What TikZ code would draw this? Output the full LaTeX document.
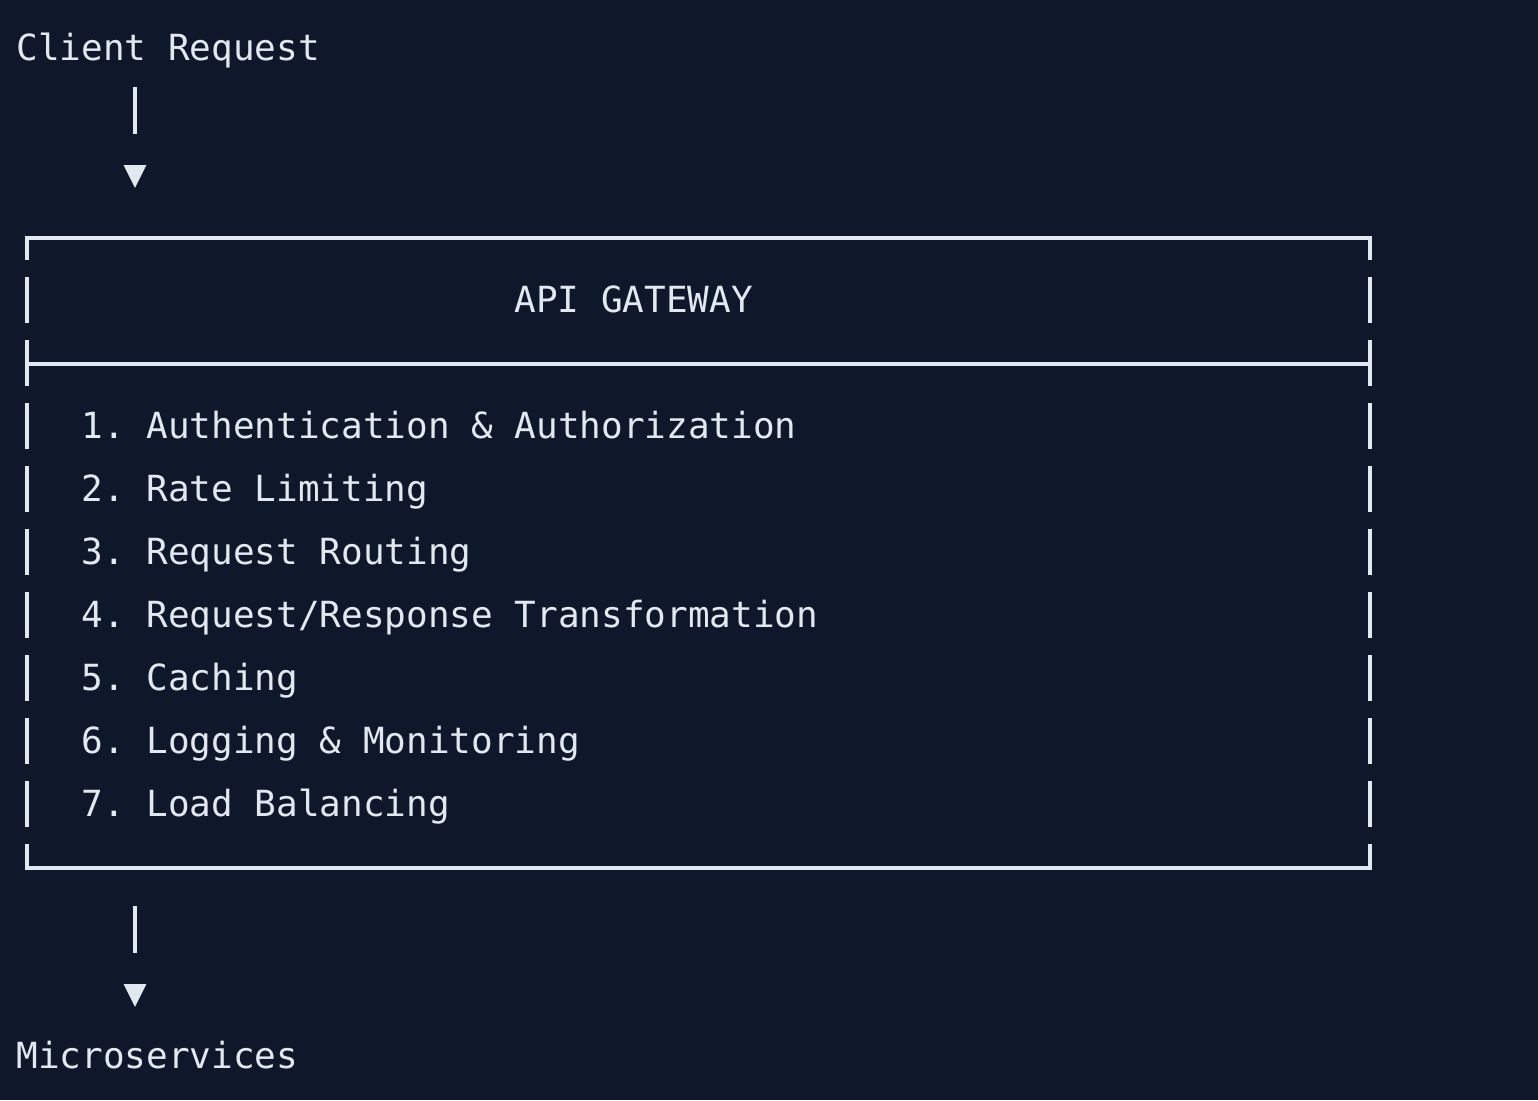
\documentclass[tikz,border=0pt]{standalone}
\usepackage{fontspec}
\setmonofont{DejaVu Sans Mono}
\usepackage{xcolor}
\usepackage{tikz}
\usetikzlibrary{arrows.meta}
\definecolor{bgnavy}{HTML}{0F172A}
\definecolor{inkgrey}{HTML}{E2E8F0}
\tikzset{
    % Text styles
    term/.style={text=inkgrey, font=\ttfamily\fontsize{18pt}{22pt}\selectfont\frenchspacing, inner sep=0pt, anchor=base west},
    % Frame styles
    rule/.style={inkgrey, line width=1.8pt, line cap=rect},
    side/.style={inkgrey, line width=1.8pt, dash pattern=on 23pt off 8.5pt, dash phase=12pt},
    % Arrow styles
    flow/.style={inkgrey, line width=1.7pt, dash pattern=on 23.5pt off 60pt, -{Triangle[width=11pt, length=11.5pt]}}
}

\begin{document}
\begin{tikzpicture}[x=0.5pt, y=-0.5pt]
% Background
\useasboundingbox (0,0) rectangle (1538,1100);
\fill[bgnavy] (0,0) rectangle (1538,1100);

% Request in
\node[term] (client) at (16,60) {Client Request};
\coordinate (inTop) at (135,87);
\coordinate (inTip) at (135,188);
\draw[flow] (inTop) -- (inTip);

% Gateway frame
\coordinate (gwNW) at (27,238);
\coordinate (gwNE) at (1370,238);
\coordinate (gwSW) at (27,868);
\coordinate (gwSE) at (1370,868);
\coordinate (divW) at (27,364);
\coordinate (divE) at (1370,364);
\draw[rule] (gwNW) -- (gwNE);
\draw[rule] (divW) -- (divE);
\draw[rule] (gwSW) -- (gwSE);
\draw[side] (gwNW) -- (gwSW);
\draw[side] (gwNE) -- (gwSE);

% Title
\node[term] (gwtitle) at (514,312) {API GATEWAY};

% Gateway steps
\foreach \txt [count=\i] in {Authentication \& Authorization, Rate Limiting, Request Routing, Request/Response Transformation, Caching, Logging \& Monitoring, Load Balancing}
    \node[term] (item\i) at (81,375+63*\i) {\i. \txt};

% Out to services
\coordinate (outTop) at (135,906);
\coordinate (outTip) at (135,1007);
\draw[flow] (outTop) -- (outTip);
\node[term] (services) at (16,1068) {Microservices};
\end{tikzpicture}
\end{document}
